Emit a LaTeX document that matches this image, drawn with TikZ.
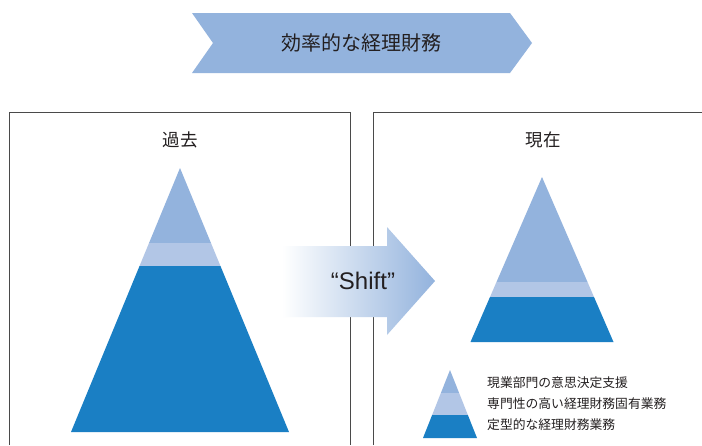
\documentclass[tikz,border=0pt]{standalone}
\usepackage{fontspec}
\setmainfont{Liberation Sans}
\newfontfamily\jp{Noto Sans CJK JP}
\definecolor{topband}{HTML}{93B3DD}
\definecolor{midband}{HTML}{B2C6E6}
\definecolor{botband}{HTML}{1A7FC4}
\definecolor{txt}{HTML}{231F20}
\definecolor{frame}{HTML}{4A4A4A}
\tikzset{
  framebox/.style={draw=frame, line width=0.9pt},
  jptext/.style={text=txt, font=\jp, inner sep=0pt, anchor=center},
}
% pyramid: apex x, apex y, base y, half width, band1 y, band2 y
\newcommand{\mypyramid}[6]{%
  \begin{scope}
    \clip (#1,#2) -- (#1-#4,#3) -- (#1+#4,#3) -- cycle;
    \fill[topband] (#1-#4-2,#2-2) rectangle (#1+#4+2,#5);
    \fill[midband] (#1-#4-2,#5) rectangle (#1+#4+2,#6);
    \fill[botband] (#1-#4-2,#6) rectangle (#1+#4+2,#3+2);
  \end{scope}}
\begin{document}
\begin{tikzpicture}[x=1pt,y=-1pt]
\useasboundingbox[fill=white] (0,0) rectangle (702,445);
% top banner chevron
\fill[topband] (192,13) -- (510,13) -- (532,43) -- (510,73) -- (192,73) -- (213,43) -- cycle;
\node[jptext, font=\jp\fontsize{20}{24}\selectfont] (goal) at (361,43) {効率的な経理財務};
% boxes
\draw[framebox] (9,445) -- (9,112) -- (350,112) -- (350,445);
\draw[framebox] (373,445) -- (373,112) -- (702,112);
\node[jptext, font=\jp\fontsize{17.5}{20}\selectfont] (past) at (180,140) {過去};
\node[jptext, font=\jp\fontsize{17.5}{20}\selectfont] (now) at (543,140) {現在};
% pyramids
\mypyramid{180}{168}{432}{109}{243}{266}
\mypyramid{542}{177}{342}{71.5}{282}{297}
% shift arrow
\shade[left color=white, right color=topband, shading angle=90]
  (282,246) -- (387,246) -- (387,227) -- (435,281) -- (387,335) -- (387,317) -- (282,317) -- cycle;
\node[text=txt, font=\fontsize{24}{28}\selectfont, inner sep=0pt] (shift) at (363,281) {“Shift”};
% legend
\mypyramid{450}{370}{438}{27}{393}{415}
\node[jptext, anchor=west, font=\jp\fontsize{12.8}{15}\selectfont] (l1) at (487,383) {現業部門の意思決定支援};
\node[jptext, anchor=west, font=\jp\fontsize{12.8}{15}\selectfont] (l2) at (487,404) {専門性の高い経理財務固有業務};
\node[jptext, anchor=west, font=\jp\fontsize{12.8}{15}\selectfont] (l3) at (487,425) {定型的な経理財務業務};
\end{tikzpicture}
\end{document}
